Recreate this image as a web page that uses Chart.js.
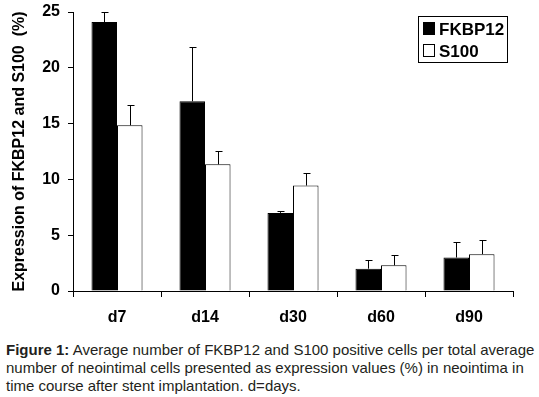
<!DOCTYPE html>
<html>
<head>
<meta charset="utf-8">
<script src="https://cdn.jsdelivr.net/npm/chart.js@4"></script>
<style>
  body { margin: 0; background: #fff; font-family: "Liberation Sans", Arial, sans-serif; }
  #wrap { width: 539px; height: 330px; position: relative; }
  .caption { margin: 0; padding: 11px 2px 0 6px; font-size: 15px; line-height: 18px; color: #231f20; }
</style>
</head>
<body>
<div id="wrap"><canvas id="chart"></canvas></div>
<p class="caption"><b>Figure 1:</b> Average number of FKBP12 and S100 positive cells per total average number of neointimal cells presented as expression values (%) in neointima in time course after stent implantation. d=days.</p>
<script>
const days = ['d7', 'd14', 'd30', 'd60', 'd90'];
const fkbp12 = [24.1, 17.0, 7.0, 2.0, 3.0];
const fkbp12Err = [0.9, 4.9, 0.15, 0.8, 1.4];
const s100 = [14.85, 11.35, 9.45, 2.3, 3.3];
const s100Err = [1.8, 1.2, 1.1, 0.9, 1.3];
const yTicks = [0, 5, 10, 15, 20, 25];

// draws upward error bars from the top of each bar
const errorBars = {
    id: 'errorBars',
    afterDatasetsDraw(chart) {
        const ctx = chart.ctx;
        const y = chart.scales.y;
        ctx.save();
        ctx.strokeStyle = '#000';
        ctx.lineWidth = 1;
        chart.data.datasets.forEach((ds, i) => {
            const meta = chart.getDatasetMeta(i);
            meta.data.forEach((bar, j) => {
                const x = Math.round(bar.x) + 0.5;
                const top = Math.round(y.getPixelForValue(ds.data[j] + ds.err[j])) + 0.5;
                ctx.beginPath();
                ctx.moveTo(x, bar.y);
                ctx.lineTo(x, top);
                ctx.moveTo(x - 3, top);
                ctx.lineTo(x + 4, top);
                ctx.stroke();
            });
        });
        ctx.restore();
    }
};

// boxed legend in the upper right corner
const boxLegend = {
    id: 'boxLegend',
    afterDraw(chart) {
        const ctx = chart.ctx;
        ctx.save();
        ctx.strokeStyle = '#000';
        ctx.lineWidth = 1;
        ctx.strokeRect(418.5, 16.5, 89, 46);
        ctx.font = 'bold 17px "Liberation Sans", Arial, sans-serif';
        ctx.textBaseline = 'middle';
        chart.data.datasets.forEach((ds, i) => {
            const yy = 29 + i * 22;
            ctx.fillStyle = ds.backgroundColor;
            ctx.fillRect(423.5, yy - 6.5, 11, 12);
            ctx.strokeRect(423.5, yy - 6.5, 11, 12);
            ctx.fillStyle = '#000';
            ctx.fillText(ds.label, 439, yy + 1);
        });
        ctx.restore();
    }
};

new Chart(document.getElementById('chart'), {
    type: 'bar',
    data: {
        labels: days,
        datasets: [
            { label: 'FKBP12', data: fkbp12, err: fkbp12Err, backgroundColor: '#000', borderColor: '#000', borderWidth: 1 },
            { label: 'S100', data: s100, err: s100Err, backgroundColor: '#fff', borderColor: '#000', borderWidth: 1 }
        ]
    },
    options: {
        responsive: true,
        maintainAspectRatio: false,
        animation: false,
        categoryPercentage: 0.58,
        barPercentage: 1,
        layout: { padding: { top: 12, right: 26, left: 0, bottom: 0 } },
        plugins: { legend: { display: false }, tooltip: { enabled: false } },
        scales: {
            x: {
                grid: { offset: true, drawOnChartArea: false, tickLength: 6, color: '#000' },
                border: { color: '#000', width: 1 },
                ticks: { color: '#000', font: { size: 16, weight: 'bold', family: '"Liberation Sans", Arial' }, padding: 11 },
                afterFit(scale) { scale.height = 39; }
            },
            y: {
                min: 0,
                max: 25,
                afterBuildTicks(scale) { scale.ticks = yTicks.map(v => ({ value: v })); },
                grid: { drawOnChartArea: false, tickLength: 5, color: '#000' },
                border: { color: '#000', width: 1 },
                ticks: { color: '#000', font: { size: 16, weight: 'bold', family: '"Liberation Sans", Arial' }, padding: 8 },
                title: {
                    display: true,
                    text: 'Expression of FKBP12 and S100  (%)',
                    color: '#000',
                    font: { size: 16, weight: 'bold', family: '"Liberation Sans", Arial' },
                    padding: { top: 10, bottom: 0 }
                },
                afterFit(scale) {
                    scale.width = 73;
                    scale.paddingTop = 0;
                    scale.paddingBottom = 0;
                }
            }
        }
    },
    plugins: [errorBars, boxLegend]
});
</script>
</body>
</html>
